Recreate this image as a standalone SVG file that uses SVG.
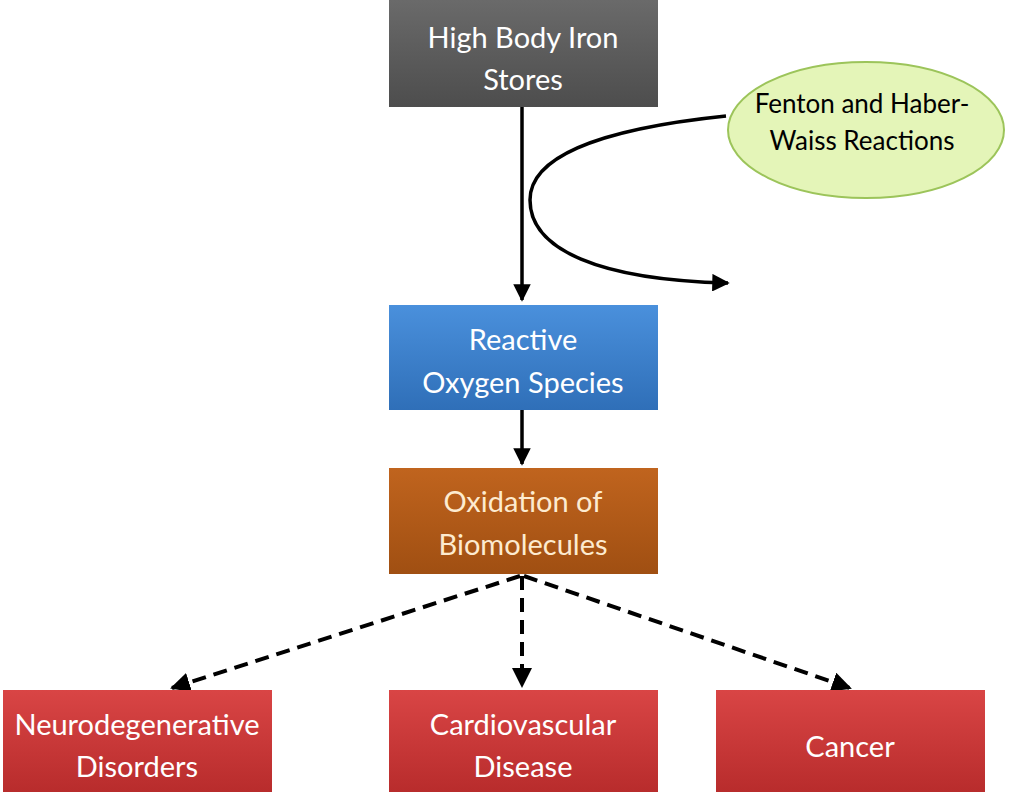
<svg xmlns="http://www.w3.org/2000/svg" width="1024" height="805" viewBox="0 0 1024 805">
<style>
.t{font-family:Lato,"Liberation Sans",sans-serif;font-size:29px;fill:#fff;text-anchor:middle}
.c{fill:none;stroke:#000;stroke-width:3.5}
.d{fill:none;stroke:#000;stroke-width:4;stroke-dasharray:14 8}
</style>
<defs>
<marker id="f" viewBox="0 0 10 10" refX="9" refY="5" markerWidth="5" markerHeight="5" orient="auto"><path d="M0,0L10,5L0,10z" fill="#000"/></marker>
<linearGradient id="gg" x1="0" y1="0" x2="0" y2="1"><stop offset="0" stop-color="#6a6a6a"/><stop offset="1" stop-color="#4d4d4d"/></linearGradient>
<linearGradient id="gb" x1="0" y1="0" x2="0" y2="1"><stop offset="0" stop-color="#4a90dc"/><stop offset="1" stop-color="#2f6fb8"/></linearGradient>
<linearGradient id="go" x1="0" y1="0" x2="0" y2="1"><stop offset="0" stop-color="#c0641e"/><stop offset="1" stop-color="#a04f12"/></linearGradient>
<linearGradient id="gr" x1="0" y1="0" x2="0" y2="1"><stop offset="0" stop-color="#d94545"/><stop offset="1" stop-color="#b82c2c"/></linearGradient>
</defs>
<g id="connectors">
<line class="c" x1="522" y1="107" x2="522" y2="300" marker-end="url(#f)"/>
<line class="c" x1="522" y1="410" x2="522" y2="464" marker-end="url(#f)"/>
<path class="c" d="M726,116 C590,130 530,160 530,200 C530,250 600,280 728,283" marker-end="url(#f)"/>
<line class="d" x1="520" y1="576" x2="172" y2="688" marker-end="url(#f)"/>
<line class="d" x1="522" y1="576" x2="522" y2="686" marker-end="url(#f)"/>
<line class="d" x1="524" y1="576" x2="850" y2="688" marker-end="url(#f)"/>
</g>
<g id="iron"><rect x="389" y="0" width="269" height="107" fill="url(#gg)"/><text class="t" x="523" y="48">High Body Iron</text><text class="t" x="523" y="90">Stores</text></g>
<g id="fenton"><ellipse cx="866" cy="130" rx="138" ry="68" fill="#e4f5b8" stroke="#9cc45a" stroke-width="2"/><text class="t" x="862" y="113" style="fill:#000;font-size:26px">Fenton and Haber-</text><text class="t" x="862" y="150" style="fill:#000;font-size:26px">Waiss Reactions</text></g>
<g id="ros"><rect x="389" y="305" width="269" height="105" fill="url(#gb)"/><text class="t" x="523" y="350">Reactive</text><text class="t" x="523" y="393">Oxygen Species</text></g>
<g id="ox"><rect x="389" y="468" width="269" height="106" fill="url(#go)"/><text class="t" x="523" y="512" style="fill:#fdebd0">Oxidation of</text><text class="t" x="523" y="555" style="fill:#fdebd0">Biomolecules</text></g>
<g id="neuro"><rect x="3" y="690" width="269" height="102" fill="url(#gr)"/><text class="t" x="137" y="735">Neurodegenerative</text><text class="t" x="137" y="777">Disorders</text></g>
<g id="cardio"><rect x="389" y="690" width="269" height="102" fill="url(#gr)"/><text class="t" x="523" y="735">Cardiovascular</text><text class="t" x="523" y="777">Disease</text></g>
<g id="cancer"><rect x="716" y="690" width="269" height="102" fill="url(#gr)"/><text class="t" x="850" y="757">Cancer</text></g>
</svg>
